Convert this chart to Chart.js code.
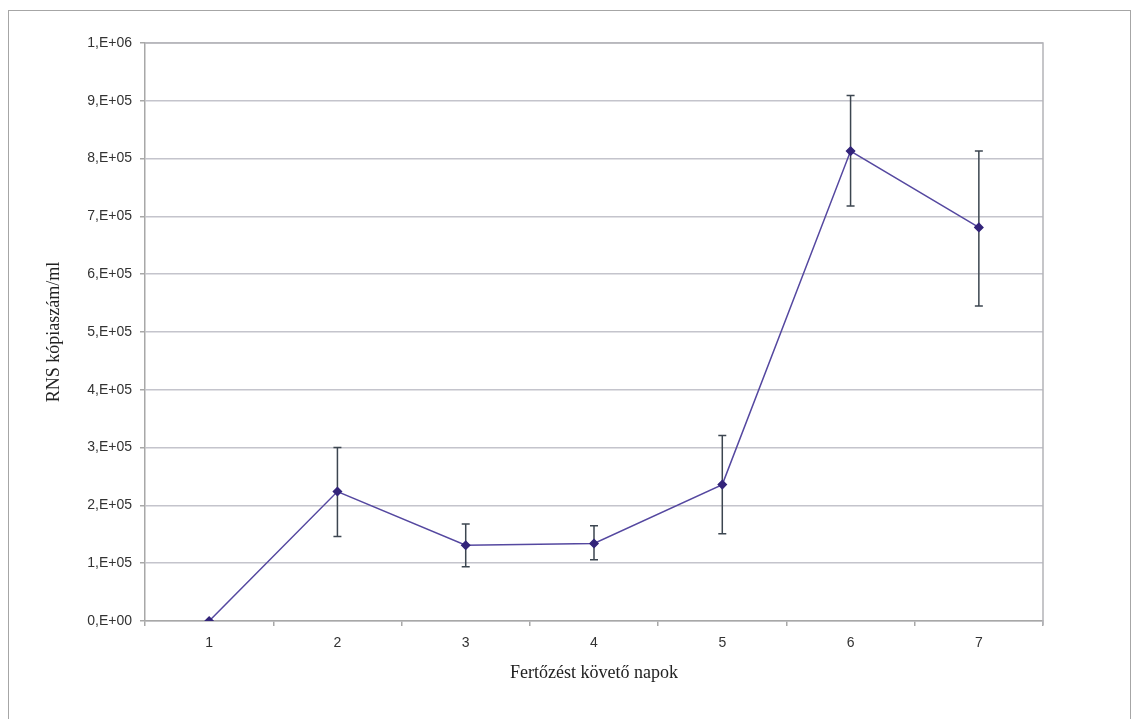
<!DOCTYPE html>
<html>
<head>
<meta charset="utf-8">
<script src="https://cdn.jsdelivr.net/npm/chart.js@4/dist/chart.umd.min.js"></script>
<style>
    html, body { margin: 0; padding: 0; background: #fff; overflow: hidden; }
    #frame {
        position: absolute; left: 8px; top: 10px; width: 1121px; height: 760px;
        border: 1px solid #a6a6a6; border-bottom: none;
    }
    #chart { position: absolute; left: 0; top: 0; }
</style>
</head>
<body>
<div id="frame"></div>
<canvas id="chart" width="1131" height="719"></canvas>
<script>
'use strict';

const days = ['1', '2', '3', '4', '5', '6', '7'];
const copies = [0, 224000, 131000, 134000, 236000, 813000, 681000];
const errHigh = [null, 300000, 168000, 165000, 321000, 909000, 813000];
const errLow = [null, 146000, 94000, 106000, 151000, 718000, 545000];
const yTickLabels = ['0,E+00', '1,E+05', '2,E+05', '3,E+05', '4,E+05', '5,E+05',
    '6,E+05', '7,E+05', '8,E+05', '9,E+05', '1,E+06'];

// hibasávok: a skálákon keresztül rajzolva
const errorBars = {
    id: 'errorBars',
    beforeDatasetsDraw(chart) {
        const ctx = chart.ctx;
        const y = chart.scales.y;
        const meta = chart.getDatasetMeta(0);
        ctx.save();
        ctx.strokeStyle = '#3c4650';
        ctx.lineWidth = 1.5;
        meta.data.forEach((pt, i) => {
            if (errHigh[i] === null) return;
            const top = y.getPixelForValue(errHigh[i]);
            const bot = y.getPixelForValue(errLow[i]);
            ctx.beginPath();
            ctx.moveTo(pt.x, top);
            ctx.lineTo(pt.x, bot);
            ctx.moveTo(pt.x - 4, top);
            ctx.lineTo(pt.x + 4, top);
            ctx.moveTo(pt.x - 4, bot);
            ctx.lineTo(pt.x + 4, bot);
            ctx.stroke();
        });
        ctx.restore();
    }
};

const plotBorder = {
    id: 'plotBorder',
    beforeDatasetsDraw(chart) {
        const a = chart.chartArea;
        const ctx = chart.ctx;
        ctx.save();
        ctx.strokeStyle = '#b4b4b8';
        ctx.lineWidth = 1.5;
        ctx.beginPath();
        ctx.moveTo(a.left, a.top);
        ctx.lineTo(a.right, a.top);
        ctx.lineTo(a.right, a.bottom + 4);
        ctx.stroke();
        ctx.restore();
    }
};

const ctx = document.getElementById('chart').getContext('2d');
new Chart(ctx, {
    type: 'line',
    data: {
        labels: days,
        datasets: [{
            data: copies,
            borderColor: '#5548a0',
            borderWidth: 1.5,
            backgroundColor: '#33247a',
            pointBackgroundColor: '#33247a',
            pointBorderColor: '#33247a',
            pointStyle: 'rectRot',
            pointRadius: 4,
            pointHoverRadius: 4,
            tension: 0,
            fill: false
        }]
    },
    options: {
        responsive: false,
        animation: false,
        devicePixelRatio: 1,
        layout: { padding: { left: 0, top: 43, right: 88, bottom: 0 } },
        plugins: {
            legend: { display: false },
            tooltip: { enabled: false }
        },
        scales: {
            x: {
                offset: true,
                afterFit: (s) => { s.height = 98; },
                grid: {
                    offset: true,
                    drawOnChartArea: false,
                    drawTicks: true,
                    tickLength: 5,
                    color: '#a8a8a8',
                    lineWidth: 1.5
                },
                border: { color: '#a8a8a8', width: 1.5 },
                ticks: {
                    padding: 9,
                    color: '#333',
                    font: { family: 'Liberation Sans', size: 14 }
                },
                title: {
                    display: true,
                    text: 'Fertőzést követő napok',
                    color: '#222',
                    font: { family: 'Liberation Serif', size: 18 },
                    padding: { top: 0, bottom: 35 }
                }
            },
            y: {
                min: 0,
                max: 1000000,
                afterFit: (s) => { s.width = 145; },
                grid: {
                    color: '#c4c4cc',
                    lineWidth: 1.5,
                    drawTicks: true,
                    tickLength: 5,
                    tickColor: '#a8a8a8'
                },
                border: { color: '#a8a8a8', width: 1.5 },
                ticks: {
                    stepSize: 100000,
                    padding: 8,
                    color: '#333',
                    font: { family: 'Liberation Sans', size: 14 },
                    callback: (v, i) => yTickLabels[i]
                },
                title: {
                    display: true,
                    text: 'RNS kópiaszám/ml',
                    color: '#222',
                    font: { family: 'Liberation Serif', size: 18 },
                    padding: { top: 43, bottom: 0 }
                }
            }
        }
    },
    plugins: [errorBars, plotBorder]
});
</script>
</body>
</html>
